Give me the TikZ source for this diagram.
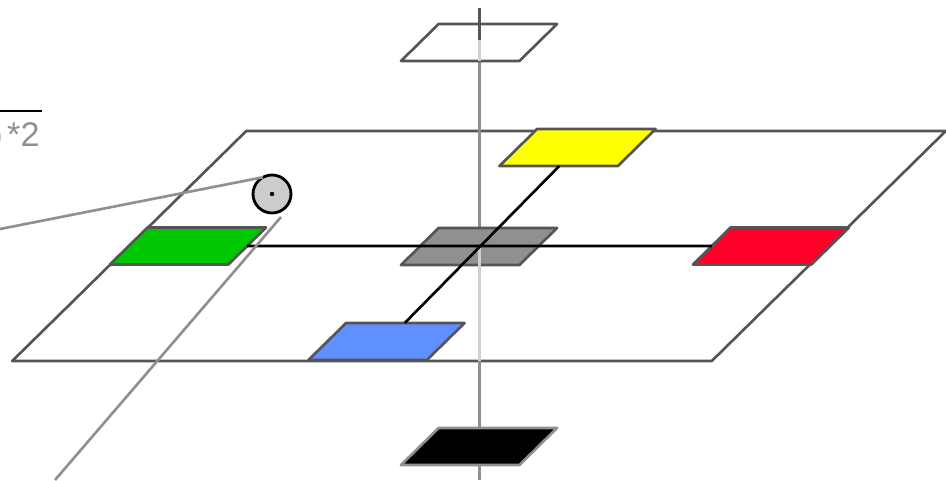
\documentclass[tikz,border=0pt]{standalone}
\usepackage{fontspec}
\setmainfont{Liberation Sans}
\usetikzlibrary{shapes.geometric, positioning, calc}
\definecolor{edgegray}{HTML}{555555}
\definecolor{axisgray}{HTML}{909090}
\definecolor{axislight}{HTML}{D0D0D0}
\definecolor{platered}{HTML}{FF0028}
\definecolor{plategreen}{HTML}{00C800}
\definecolor{plateblue}{HTML}{6090FF}
\definecolor{plateyellow}{HTML}{FFFF00}

\begin{document}
\begin{tikzpicture}[
    on grid,
    base/.style={draw=edgegray, line width=1.5pt, line join=round, outer sep=0pt, inner sep=0pt, trapezium, trapezium left angle=44.5, trapezium right angle=135.5},
    plate/.style={base, text width=1.616cm, text height=0.74cm},
    plane/.style={base, fill=white, text width=9.31cm, text height=4.6cm},
    axis/.style={line width=1.7pt, draw=axisgray},
    wire/.style={line width=1.5pt, black},
    sightline/.style={line width=1.5pt, axisgray}
  ]
    \useasboundingbox (0,0) rectangle (18.92,9.6);
    \clip (0,0) rectangle (18.92,9.6);
    \node[plane] (ground) at (9.58,4.68) {};
    \coordinate[above=4.76cm of ground] (axistop);
    \coordinate[above=4.12cm of ground] (axisbend);
    \coordinate[above=3.7cm of ground] (axisroof);
    \coordinate[below=2.3cm of ground] (axisfloor);
    \coordinate[below=4.68cm of ground] (axisend);
    % axis behind the plates
    \draw[axis] (axisroof) -- (ground.center);
    \draw[axis] (axisfloor) -- (axisend);
    \node[plate, fill=white, above=4.07cm of ground] (topplate) {};
    \draw[axis, draw=edgegray] (axistop) -- (axisbend);
    \draw[axis, draw=axislight] (axisbend) -- (axisroof);
    \node[plate, fill=black, draw=axisgray, below=4.01cm of ground] (blackplate) {};
    \node[plate, fill=axisgray, below=0.01cm of ground] (midplate) {};
    \draw[axis, draw=axislight] (ground.center) -- (axisfloor);
    \node[plate, fill=plateyellow, above right=1.97cm and 1.97cm of ground] (yellowplate) {};
    \node[plate, fill=plateblue, below left=1.91cm and 1.85cm of ground] (blueplate) {};
    \node[plate, fill=plategreen, left=5.82cm of ground] (greenplate) {};
    \node[plate, fill=platered, right=5.84cm of ground] (redplate) {};
    \draw[wire] (greenplate) -- (redplate);
    \draw[wire] (blueplate) -- (yellowplate);
    % ball and its sight lines
    \node[circle, draw=black, fill=black!20, line width=1.6pt, minimum size=0.76cm, outer sep=0pt, inner sep=0pt, above left=1.04cm and 4.14cm of ground] (ball) {};
    \node[circle, fill=black, minimum size=0.09cm, inner sep=0pt] (balldot) at (ball) {};
    \coordinate[below right=0.46cm and 0.18cm of ball] (ballfoot);
    \coordinate (sighta) at (0,5.02);
    \coordinate (sightb) at (1.1,0);
    \draw[sightline] (ball.118) -- (sighta);
    \draw[sightline] (ballfoot) -- (sightb);
    % cut off formula
    \coordinate (barleft) at (0,7.38);
    \coordinate (barright) at (0.84,7.38);
    \draw[wire] (barleft) -- (barright);
    \node[anchor=base east, inner sep=0pt, font=\fontsize{19.5pt}{22pt}\selectfont, text=axisgray] (formula) at (0.8,6.68) {)\kern2.5pt*2};
  \end{tikzpicture}
\end{document}
